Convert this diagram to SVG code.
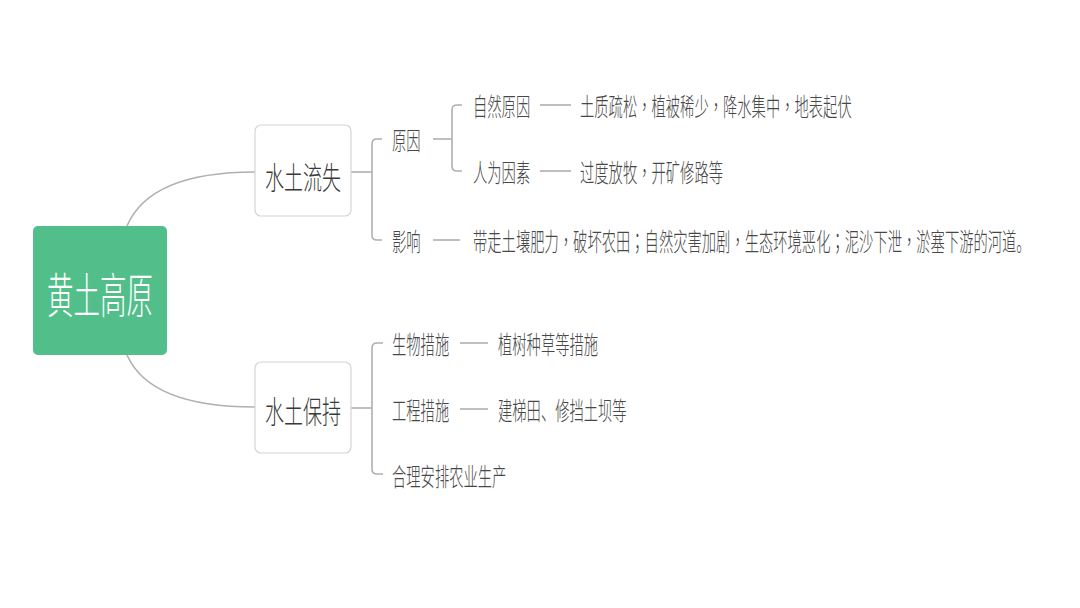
<svg xmlns="http://www.w3.org/2000/svg" width="1080" height="608" viewBox="0 0 1080 608">
<style>
  text { font-family: "Noto Sans CJK SC", "Noto Sans", sans-serif; dominant-baseline: central; font-weight: 300; }
  .root { fill: #ffffff; font-size: 26.5px; text-anchor: middle; }
  .mid { fill: #3a3a3a; font-size: 19px; text-anchor: middle; }
  .s { fill: #474747; font-size: 14.3px; }
  .p { font-family: "Noto Sans CJK TC", "Noto Sans", sans-serif; }
  .c { fill: none; stroke: #b0b0b0; stroke-width: 1.6; }
  .box { fill: #ffffff; stroke: #d4d4d4; stroke-width: 1.2; }
</style>
<rect width="1080" height="608" fill="#ffffff"/>
<g id="connectors">
  <path class="c" d="M127,226 Q150,172 255,172"/>
  <path class="c" d="M127,355 Q150,407 255,407"/>
  <path class="c" d="M351,172 H372"/>
  <path class="c" d="M382,139 H377 Q372,139 372,144 V235 Q372,240 377,240 H382"/>
  <path class="c" d="M433,139 H452"/>
  <path class="c" d="M462,105 H457 Q452,105 452,110 V166 Q452,171 457,171 H462"/>
  <path class="c" d="M540,105 H571"/>
  <path class="c" d="M540,171 H571"/>
  <path class="c" d="M433,240 H460"/>
  <path class="c" d="M351,408 H372"/>
  <path class="c" d="M383,343 H377 Q372,343 372,348 V469 Q372,474 377,474 H383"/>
  <path class="c" d="M460,343 H488"/>
  <path class="c" d="M460,409 H488"/>
</g>
<g id="n-root">
  <rect x="33" y="226" width="134" height="129" rx="5" fill="#52bf8b"/>
  <text class="root" transform="translate(100,292) scale(1,1.8)">黄土高原</text>
</g>
<g id="n-loss">
  <rect class="box" x="255" y="125" width="96" height="91" rx="6"/>
  <text class="mid" transform="translate(303,176) scale(1,1.6)">水土流失</text>
</g>
<g id="n-keep">
  <rect class="box" x="255" y="362" width="96" height="91" rx="6"/>
  <text class="mid" transform="translate(303,410) scale(1,1.6)">水土保持</text>
</g>
<g id="n-cause">
  <text class="s" transform="translate(392,139) scale(1,1.75)">原因</text>
</g>
<g id="n-natural">
  <text class="s" transform="translate(473,105) scale(1,1.75)">自然原因</text>
</g>
<g id="n-natural-d">
  <text class="s" transform="translate(580,105) scale(1,1.75)">土质疏松<tspan class="p">，</tspan>植被稀少<tspan class="p">，</tspan>降水集中<tspan class="p">，</tspan>地表起伏</text>
</g>
<g id="n-human">
  <text class="s" transform="translate(473,171) scale(1,1.75)">人为因素</text>
</g>
<g id="n-human-d">
  <text class="s" transform="translate(580,171) scale(1,1.75)">过度放牧<tspan class="p">，</tspan>开矿修路等</text>
</g>
<g id="n-effect">
  <text class="s" transform="translate(392,240) scale(1,1.75)">影响</text>
</g>
<g id="n-effect-d">
  <text class="s" transform="translate(473,240) scale(1,1.75)">带走土壤肥力<tspan class="p">，</tspan>破坏农田<tspan class="p">；</tspan>自然灾害加剧<tspan class="p">，</tspan>生态环境恶化<tspan class="p">；</tspan>泥沙下泄<tspan class="p">，</tspan>淤塞下游的河道。</text>
</g>
<g id="n-bio">
  <text class="s" transform="translate(392,343) scale(1,1.75)">生物措施</text>
</g>
<g id="n-bio-d">
  <text class="s" transform="translate(498,343) scale(1,1.75)">植树种草等措施</text>
</g>
<g id="n-eng">
  <text class="s" transform="translate(392,409) scale(1,1.75)">工程措施</text>
</g>
<g id="n-eng-d">
  <text class="s" transform="translate(498,409) scale(1,1.75)">建梯田、修挡土坝等</text>
</g>
<g id="n-agri">
  <text class="s" transform="translate(392,475) scale(1,1.75)">合理安排农业生产</text>
</g>
</svg>
